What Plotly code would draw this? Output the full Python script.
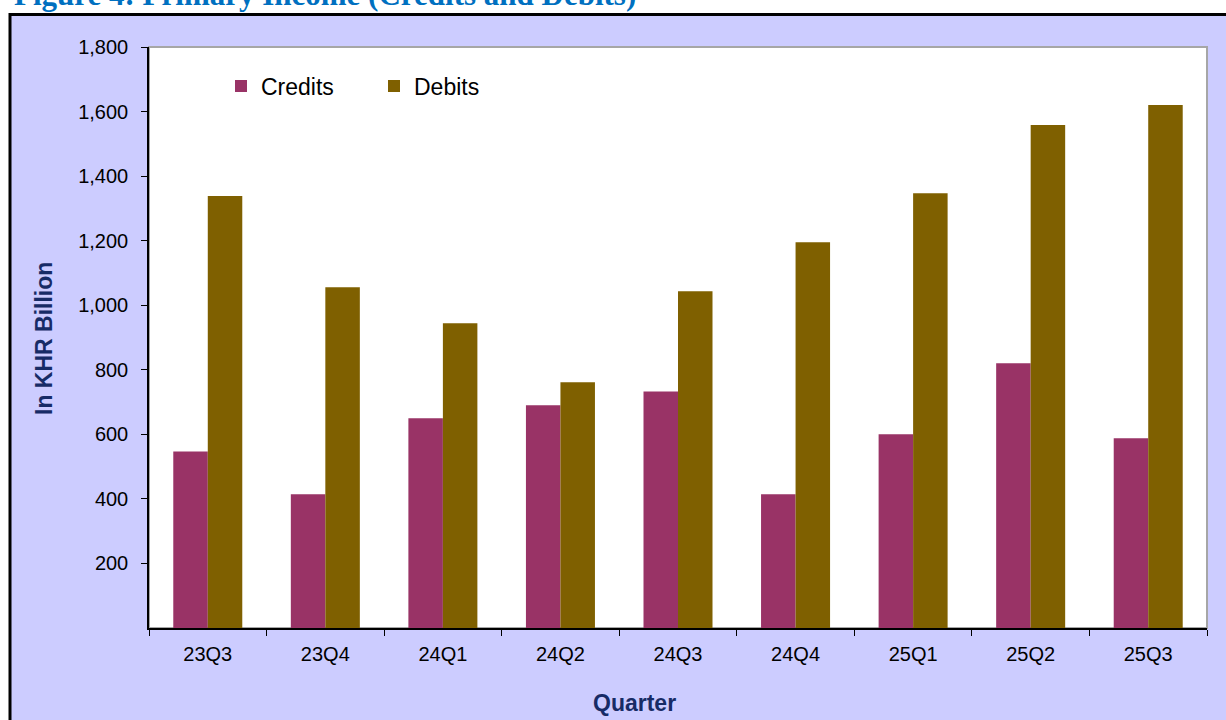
import plotly.graph_objects as go

quarters = ["23Q3", "23Q4", "24Q1", "24Q2", "24Q3", "24Q4", "25Q1", "25Q2", "25Q3"]
credits = [547, 414, 650, 690, 733, 414, 600, 820, 588]
debits = [1338, 1056, 944, 761, 1043, 1195, 1347, 1558, 1620]
y_ticks = [200, 400, 600, 800, 1000, 1200, 1400, 1600, 1800]
y_labels = ["200", "400", "600", "800", "1,000", "1,200", "1,400", "1,600", "1,800"]

W, H = 1226, 720
ML, MR, MT, MB = 149, 19, 47, 92
PW, PH = W - ML - MR, H - MT - MB

def px_x(p):
    return (p - ML) / PW

def px_y(p):
    return (H - MB - p) / PH

fig = go.Figure()
fig.add_trace(go.Bar(name="Credits", x=quarters, y=credits, marker_color="#993366",
                     marker_line_width=0))
fig.add_trace(go.Bar(name="Debits", x=quarters, y=debits, marker_color="#7F6000",
                     marker_line_width=0))

fig.update_layout(
    width=W, height=H,
    margin=dict(l=ML, r=MR, t=MT, b=MB),
    paper_bgcolor="white",
    plot_bgcolor="white",
    barmode="group",
    bargap=0.413,
    bargroupgap=0,
    font=dict(family="Liberation Sans, Arial, sans-serif", color="black"),
    showlegend=True,
    legend=dict(
        orientation="h",
        x=px_x(221), y=px_y(86), xanchor="left", yanchor="middle",
        bgcolor="rgba(0,0,0,0)",
        font=dict(size=23, color="black"),
        entrywidth=108, entrywidthmode="pixels",
        itemwidth=30,
    ),
    xaxis=dict(
        showline=True, linecolor="black", linewidth=1.5,
        ticks="outside", tickson="boundaries", ticklen=6, tickcolor="black",
        tickfont=dict(size=20, color="black"),
        ticklabelstandoff=7,
        showgrid=False, zeroline=False,
    ),
    yaxis=dict(
        range=[0, 1800],
        tickvals=y_ticks, ticktext=y_labels,
        showline=True, linecolor="black", linewidth=1.5,
        ticks="outside", ticklen=6, tickcolor="black",
        tickfont=dict(size=20, color="black"),
        ticklabelstandoff=9,
        showgrid=False, zeroline=False,
    ),
    shapes=[
        dict(type="rect", xref="paper", yref="paper", layer="below",
             x0=px_x(10), x1=px_x(1240), y0=px_y(14.5), y1=px_y(740),
             fillcolor="#CCCCFF", line=dict(color="black", width=3)),
        dict(type="rect", xref="paper", yref="paper", layer="below",
             x0=0, x1=1, y0=0, y1=1,
             fillcolor="white", line=dict(color="#A6A6A6", width=2)),
    ],
    annotations=[
        dict(text="<b>Figure 4: Primary Income (Credits and Debits)</b>",
             xref="paper", yref="paper", x=px_x(638), y=px_y(14),
             xanchor="right", yanchor="bottom", showarrow=False,
             font=dict(family="Liberation Serif, Times New Roman, serif", size=31, color="#0070C0")),
        dict(text="<b>In KHR Billion</b>", textangle=-90,
             xref="paper", yref="paper", x=px_x(44), y=px_y(339),
             xanchor="center", yanchor="middle", showarrow=False,
             font=dict(size=23, color="#172B66")),
        dict(text="<b>Quarter</b>",
             xref="paper", yref="paper", x=px_x(634), y=px_y(703),
             xanchor="center", yanchor="middle", showarrow=False,
             font=dict(size=23, color="#172B66")),
    ],
)

fig.write_html(
    "out.html",
    config={"displayModeBar": False},
    post_script="document.body.style.margin='0';document.body.style.padding='0';document.body.style.overflow='hidden';",
)
